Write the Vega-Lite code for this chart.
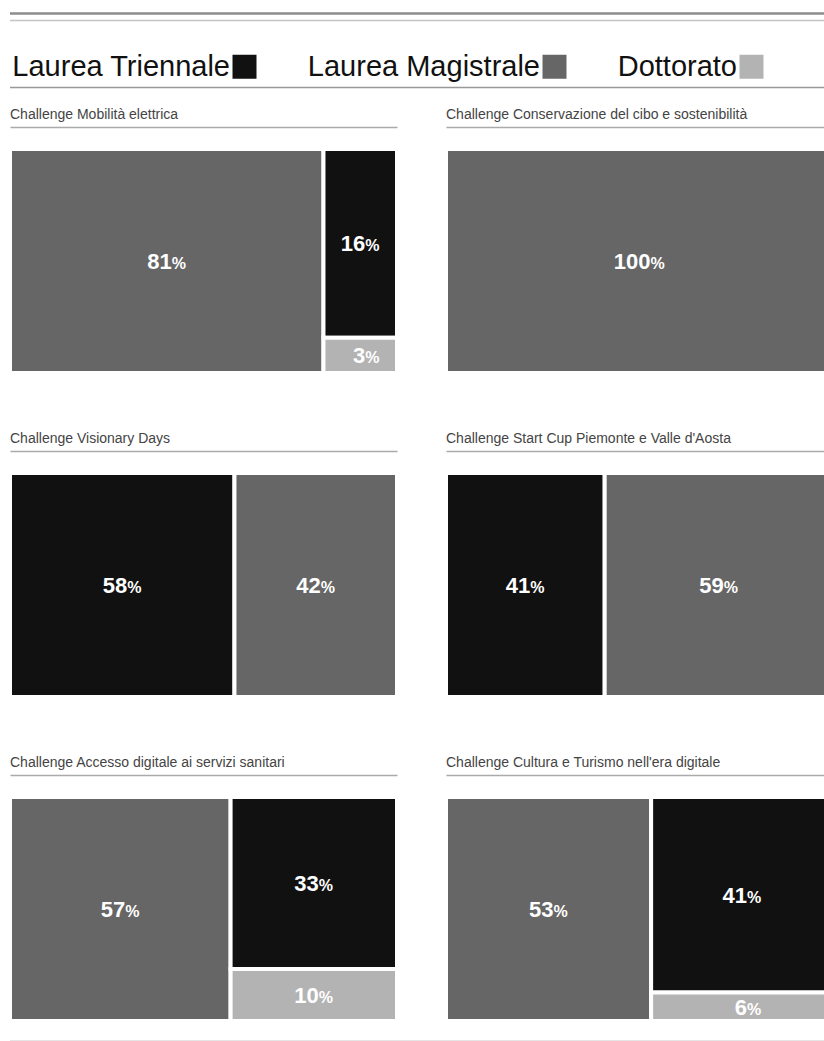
{
  "$schema": "https://vega.github.io/schema/vega-lite/v6.json",
  "background": "white",
  "padding": {"left": 8, "top": 12, "right": 0, "bottom": 0},
  "data": {"values": [
    {"panel": "Challenge Mobilità elettrica", "level": "Laurea Magistrale", "value": 81, "ord": 1},
    {"panel": "Challenge Mobilità elettrica", "level": "Laurea Triennale", "value": 16, "ord": 2},
    {"panel": "Challenge Mobilità elettrica", "level": "Dottorato", "value": 3, "ord": 3},
    {"panel": "Challenge Conservazione del cibo e sostenibilità", "level": "Laurea Magistrale", "value": 100, "ord": 1},
    {"panel": "Challenge Visionary Days", "level": "Laurea Triennale", "value": 58, "ord": 1},
    {"panel": "Challenge Visionary Days", "level": "Laurea Magistrale", "value": 42, "ord": 2},
    {"panel": "Challenge Start Cup Piemonte e Valle d'Aosta", "level": "Laurea Triennale", "value": 41, "ord": 1},
    {"panel": "Challenge Start Cup Piemonte e Valle d'Aosta", "level": "Laurea Magistrale", "value": 59, "ord": 2},
    {"panel": "Challenge Accesso digitale ai servizi sanitari", "level": "Laurea Magistrale", "value": 57, "ord": 1},
    {"panel": "Challenge Accesso digitale ai servizi sanitari", "level": "Laurea Triennale", "value": 33, "ord": 2},
    {"panel": "Challenge Accesso digitale ai servizi sanitari", "level": "Dottorato", "value": 10, "ord": 3},
    {"panel": "Challenge Cultura e Turismo nell'era digitale", "level": "Laurea Magistrale", "value": 53, "ord": 1},
    {"panel": "Challenge Cultura e Turismo nell'era digitale", "level": "Laurea Triennale", "value": 41, "ord": 2},
    {"panel": "Challenge Cultura e Turismo nell'era digitale", "level": "Dottorato", "value": 6, "ord": 3}
  ]},
  "transform": [
    {"calculate": "datum.ord == 1 ? 'a' : 'b'", "as": "col"},
    {"stack": "value", "groupby": ["panel"], "sort": [{"field": "ord", "order": "ascending"}], "as": ["sx0", "sx1"]},
    {"joinaggregate": [{"op": "min", "field": "sx0", "as": "x0"}, {"op": "max", "field": "sx1", "as": "x1"}], "groupby": ["panel", "col"]},
    {"stack": "value", "groupby": ["panel", "col"], "sort": [{"field": "ord", "order": "ascending"}], "offset": "normalize", "as": ["y0", "y1"]},
    {"calculate": "(datum.x0 + datum.x1) / 2", "as": "xm"},
    {"calculate": "(datum.y0 + datum.y1) / 2", "as": "ym"}
  ],
  "resolve": {"scale": {"color": "independent"}, "legend": {"color": "independent"}},
  "spacing": 19,
  "vconcat": [
    {
      "width": 814,
      "height": 75,
      "layer": [
        {
          "data": {"values": [{}]},
          "mark": {"type": "rule", "color": "#8c8c8c", "strokeWidth": 2.5},
          "encoding": {
            "x": {"datum": 0, "type": "quantitative", "scale": {"domain": [0, 1]}, "axis": null},
            "x2": {"datum": 1},
            "y": {"datum": 0.5, "type": "quantitative", "scale": {"domain": [0, 75], "reverse": true}, "axis": null}
          }
        },
        {
          "data": {"values": [{}]},
          "mark": {"type": "rule", "color": "#c4c4c4", "strokeWidth": 1.5},
          "encoding": {
            "x": {"datum": 0, "type": "quantitative", "scale": {"domain": [0, 1]}, "axis": null},
            "x2": {"datum": 1},
            "y": {"datum": 7.5, "type": "quantitative", "scale": {"domain": [0, 75], "reverse": true}, "axis": null}
          }
        },
        {
          "data": {"values": [{}]},
          "mark": {"type": "rule", "color": "#999999", "strokeWidth": 1.3},
          "encoding": {
            "x": {"datum": 0, "type": "quantitative", "scale": {"domain": [0, 1]}, "axis": null},
            "x2": {"datum": 1},
            "y": {"datum": 74.5, "type": "quantitative", "scale": {"domain": [0, 75], "reverse": true}, "axis": null}
          }
        },
        {
          "mark": {"type": "square", "opacity": 0},
          "encoding": {
            "color": {
              "field": "level", "type": "nominal",
              "scale": {"domain": ["Laurea Triennale", "Laurea Magistrale", "Dottorato"], "range": ["#111111", "#666666", "#b3b3b3"]},
              "legend": {
                "orient": "none", "legendX": 220, "legendY": 39, "direction": "horizontal", "title": null, "padding": 0,
                "symbolType": "square", "symbolSize": 576, "symbolStrokeWidth": 0, "symbolOpacity": 1,
                "labelFont": "Liberation Sans", "labelFontSize": 29, "labelColor": "#111111",
                "labelAlign": "right", "labelOffset": -29, "labelLimit": 0, "columnPadding": 50
              }
            }
          }
        }
      ]
    },
    {
      "spacing": 59,
      "vconcat": [
        {
          "spacing": 49,
          "hconcat": [
            {
              "width": 387, "height": 246,
              "title": "Challenge Mobilità elettrica",
              "transform": [{"filter": "datum.panel === 'Challenge Mobilità elettrica'"}],
              "layer": [
                {"mark": {"type": "rect", "stroke": "white", "strokeWidth": 4, "clip": true},
                 "encoding": {
                   "x": {"field": "x0", "type": "quantitative", "scale": {"domain": [0, 100]}, "axis": {"orient": "top"}},
                   "x2": {"field": "x1"},
                   "y": {"field": "y0", "type": "quantitative", "scale": {"domain": [0, 1], "range": [22, 246]}, "axis": null},
                   "y2": {"field": "y1"},
                   "color": {"field": "level", "type": "nominal", "scale": {"domain": ["Laurea Triennale", "Laurea Magistrale", "Dottorato"], "range": ["#111111", "#666666", "#b3b3b3"]}, "legend": null}
                 }},
                {"mark": {"type": "text", "align": "right", "baseline": "alphabetic", "dx": 5, "dy": 8, "fontSize": 22, "fontWeight": "bold", "color": "white"},
                 "encoding": {
                   "x": {"field": "xm", "type": "quantitative", "scale": {"domain": [0, 100]}},
                   "y": {"field": "ym", "type": "quantitative", "scale": {"domain": [0, 1], "range": [22, 246]}},
                   "text": {"field": "value", "type": "quantitative"}
                 }},
                {"mark": {"type": "text", "align": "left", "baseline": "alphabetic", "dx": 5, "dy": 8, "fontSize": 16, "fontWeight": "bold", "color": "white"},
                 "encoding": {
                   "x": {"field": "xm", "type": "quantitative", "scale": {"domain": [0, 100]}},
                   "y": {"field": "ym", "type": "quantitative", "scale": {"domain": [0, 1], "range": [22, 246]}},
                   "text": {"value": "%"}
                 }}
              ]
            },
            {
              "width": 378, "height": 246,
              "title": "Challenge Conservazione del cibo e sostenibilità",
              "transform": [{"filter": "datum.panel === 'Challenge Conservazione del cibo e sostenibilità'"}],
              "layer": [
                {"mark": {"type": "rect", "stroke": "white", "strokeWidth": 4, "clip": true},
                 "encoding": {
                   "x": {"field": "x0", "type": "quantitative", "scale": {"domain": [0, 97.67]}, "axis": {"orient": "top"}},
                   "x2": {"field": "x1"},
                   "y": {"field": "y0", "type": "quantitative", "scale": {"domain": [0, 1], "range": [22, 246]}, "axis": null},
                   "y2": {"field": "y1"},
                   "color": {"field": "level", "type": "nominal", "scale": {"domain": ["Laurea Triennale", "Laurea Magistrale", "Dottorato"], "range": ["#111111", "#666666", "#b3b3b3"]}, "legend": null}
                 }},
                {"mark": {"type": "text", "align": "right", "baseline": "alphabetic", "dx": 11, "dy": 8, "fontSize": 22, "fontWeight": "bold", "color": "white"},
                 "encoding": {
                   "x": {"field": "xm", "type": "quantitative", "scale": {"domain": [0, 97.67]}},
                   "y": {"field": "ym", "type": "quantitative", "scale": {"domain": [0, 1], "range": [22, 246]}},
                   "text": {"field": "value", "type": "quantitative"}
                 }},
                {"mark": {"type": "text", "align": "left", "baseline": "alphabetic", "dx": 11, "dy": 8, "fontSize": 16, "fontWeight": "bold", "color": "white"},
                 "encoding": {
                   "x": {"field": "xm", "type": "quantitative", "scale": {"domain": [0, 97.67]}},
                   "y": {"field": "ym", "type": "quantitative", "scale": {"domain": [0, 1], "range": [22, 246]}},
                   "text": {"value": "%"}
                 }}
              ]
            }
          ]
        },
        {
          "spacing": 49,
          "hconcat": [
            {
              "width": 387, "height": 246,
              "title": "Challenge Visionary Days",
              "transform": [{"filter": "datum.panel === 'Challenge Visionary Days'"}],
              "layer": [
                {"mark": {"type": "rect", "stroke": "white", "strokeWidth": 4, "clip": true},
                 "encoding": {
                   "x": {"field": "x0", "type": "quantitative", "scale": {"domain": [0, 100]}, "axis": {"orient": "top"}},
                   "x2": {"field": "x1"},
                   "y": {"field": "y0", "type": "quantitative", "scale": {"domain": [0, 1], "range": [22, 246]}, "axis": null},
                   "y2": {"field": "y1"},
                   "color": {"field": "level", "type": "nominal", "scale": {"domain": ["Laurea Triennale", "Laurea Magistrale", "Dottorato"], "range": ["#111111", "#666666", "#b3b3b3"]}, "legend": null}
                 }},
                {"mark": {"type": "text", "align": "right", "baseline": "alphabetic", "dx": 5, "dy": 8, "fontSize": 22, "fontWeight": "bold", "color": "white"},
                 "encoding": {
                   "x": {"field": "xm", "type": "quantitative", "scale": {"domain": [0, 100]}},
                   "y": {"field": "ym", "type": "quantitative", "scale": {"domain": [0, 1], "range": [22, 246]}},
                   "text": {"field": "value", "type": "quantitative"}
                 }},
                {"mark": {"type": "text", "align": "left", "baseline": "alphabetic", "dx": 5, "dy": 8, "fontSize": 16, "fontWeight": "bold", "color": "white"},
                 "encoding": {
                   "x": {"field": "xm", "type": "quantitative", "scale": {"domain": [0, 100]}},
                   "y": {"field": "ym", "type": "quantitative", "scale": {"domain": [0, 1], "range": [22, 246]}},
                   "text": {"value": "%"}
                 }}
              ]
            },
            {
              "width": 378, "height": 246,
              "title": "Challenge Start Cup Piemonte e Valle d'Aosta",
              "transform": [{"filter": "datum.panel === \"Challenge Start Cup Piemonte e Valle d'Aosta\""}],
              "layer": [
                {"mark": {"type": "rect", "stroke": "white", "strokeWidth": 4, "clip": true},
                 "encoding": {
                   "x": {"field": "x0", "type": "quantitative", "scale": {"domain": [0, 97.67]}, "axis": {"orient": "top"}},
                   "x2": {"field": "x1"},
                   "y": {"field": "y0", "type": "quantitative", "scale": {"domain": [0, 1], "range": [22, 246]}, "axis": null},
                   "y2": {"field": "y1"},
                   "color": {"field": "level", "type": "nominal", "scale": {"domain": ["Laurea Triennale", "Laurea Magistrale", "Dottorato"], "range": ["#111111", "#666666", "#b3b3b3"]}, "legend": null}
                 }},
                {"mark": {"type": "text", "align": "right", "baseline": "alphabetic", "dx": 5, "dy": 8, "fontSize": 22, "fontWeight": "bold", "color": "white"},
                 "encoding": {
                   "x": {"field": "xm", "type": "quantitative", "scale": {"domain": [0, 97.67]}},
                   "y": {"field": "ym", "type": "quantitative", "scale": {"domain": [0, 1], "range": [22, 246]}},
                   "text": {"field": "value", "type": "quantitative"}
                 }},
                {"mark": {"type": "text", "align": "left", "baseline": "alphabetic", "dx": 5, "dy": 8, "fontSize": 16, "fontWeight": "bold", "color": "white"},
                 "encoding": {
                   "x": {"field": "xm", "type": "quantitative", "scale": {"domain": [0, 97.67]}},
                   "y": {"field": "ym", "type": "quantitative", "scale": {"domain": [0, 1], "range": [22, 246]}},
                   "text": {"value": "%"}
                 }}
              ]
            }
          ]
        },
        {
          "spacing": 49,
          "hconcat": [
            {
              "width": 387, "height": 246,
              "title": "Challenge Accesso digitale ai servizi sanitari",
              "transform": [{"filter": "datum.panel === 'Challenge Accesso digitale ai servizi sanitari'"}],
              "layer": [
                {"mark": {"type": "rect", "stroke": "white", "strokeWidth": 4, "clip": true},
                 "encoding": {
                   "x": {"field": "x0", "type": "quantitative", "scale": {"domain": [0, 100]}, "axis": {"orient": "top"}},
                   "x2": {"field": "x1"},
                   "y": {"field": "y0", "type": "quantitative", "scale": {"domain": [0, 1], "range": [22, 246]}, "axis": null},
                   "y2": {"field": "y1"},
                   "color": {"field": "level", "type": "nominal", "scale": {"domain": ["Laurea Triennale", "Laurea Magistrale", "Dottorato"], "range": ["#111111", "#666666", "#b3b3b3"]}, "legend": null}
                 }},
                {"mark": {"type": "text", "align": "right", "baseline": "alphabetic", "dx": 5, "dy": 8, "fontSize": 22, "fontWeight": "bold", "color": "white"},
                 "encoding": {
                   "x": {"field": "xm", "type": "quantitative", "scale": {"domain": [0, 100]}},
                   "y": {"field": "ym", "type": "quantitative", "scale": {"domain": [0, 1], "range": [22, 246]}},
                   "text": {"field": "value", "type": "quantitative"}
                 }},
                {"mark": {"type": "text", "align": "left", "baseline": "alphabetic", "dx": 5, "dy": 8, "fontSize": 16, "fontWeight": "bold", "color": "white"},
                 "encoding": {
                   "x": {"field": "xm", "type": "quantitative", "scale": {"domain": [0, 100]}},
                   "y": {"field": "ym", "type": "quantitative", "scale": {"domain": [0, 1], "range": [22, 246]}},
                   "text": {"value": "%"}
                 }}
              ]
            },
            {
              "width": 378, "height": 246,
              "title": "Challenge Cultura e Turismo nell'era digitale",
              "transform": [{"filter": "datum.panel === \"Challenge Cultura e Turismo nell'era digitale\""}],
              "layer": [
                {"mark": {"type": "rect", "stroke": "white", "strokeWidth": 4, "clip": true},
                 "encoding": {
                   "x": {"field": "x0", "type": "quantitative", "scale": {"domain": [0, 97.67]}, "axis": {"orient": "top"}},
                   "x2": {"field": "x1"},
                   "y": {"field": "y0", "type": "quantitative", "scale": {"domain": [0, 1], "range": [22, 246]}, "axis": null},
                   "y2": {"field": "y1"},
                   "color": {"field": "level", "type": "nominal", "scale": {"domain": ["Laurea Triennale", "Laurea Magistrale", "Dottorato"], "range": ["#111111", "#666666", "#b3b3b3"]}, "legend": null}
                 }},
                {"mark": {"type": "text", "align": "right", "baseline": "alphabetic", "dx": 5, "dy": 8, "fontSize": 22, "fontWeight": "bold", "color": "white"},
                 "encoding": {
                   "x": {"field": "xm", "type": "quantitative", "scale": {"domain": [0, 97.67]}},
                   "y": {"field": "ym", "type": "quantitative", "scale": {"domain": [0, 1], "range": [22, 246]}},
                   "text": {"field": "value", "type": "quantitative"}
                 }},
                {"mark": {"type": "text", "align": "left", "baseline": "alphabetic", "dx": 5, "dy": 8, "fontSize": 16, "fontWeight": "bold", "color": "white"},
                 "encoding": {
                   "x": {"field": "xm", "type": "quantitative", "scale": {"domain": [0, 97.67]}},
                   "y": {"field": "ym", "type": "quantitative", "scale": {"domain": [0, 1], "range": [22, 246]}},
                   "text": {"value": "%"}
                 }}
              ]
            }
          ]
        }
      ]
    },
    {
      "width": 814,
      "height": 1,
      "data": {"values": [{}]},
      "mark": {"type": "rule", "color": "#dddddd", "strokeWidth": 1.5},
      "encoding": {
        "x": {"datum": 0, "type": "quantitative", "scale": {"domain": [0, 1]}, "axis": null},
        "x2": {"datum": 1},
        "y": {"datum": 0, "type": "quantitative", "scale": {"domain": [0, 1], "reverse": true}, "axis": null}
      }
    }
  ],
  "config": {
    "font": "Liberation Sans",
    "view": {"stroke": null},
    "axis": {"domain": true, "ticks": false, "labels": false, "title": null, "grid": false, "domainColor": "#aaaaaa", "domainWidth": 1.5},
    "title": {"anchor": "start", "fontSize": 14, "fontWeight": "normal", "font": "Liberation Sans", "color": "#444444", "offset": 5}
  }
}
